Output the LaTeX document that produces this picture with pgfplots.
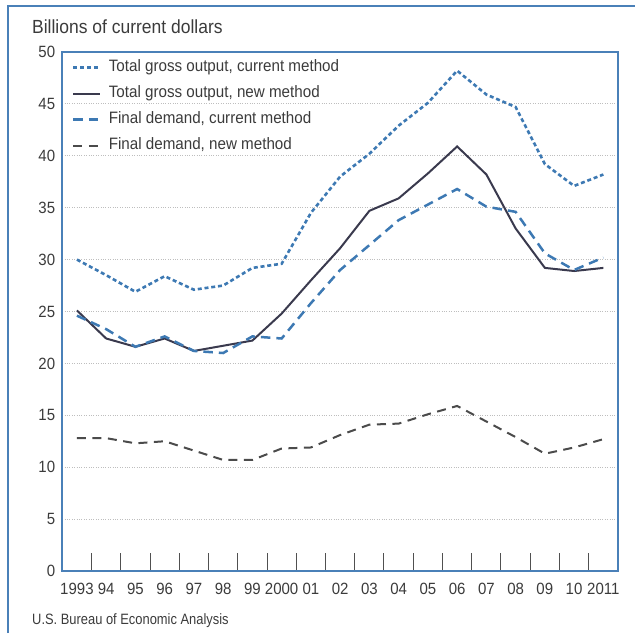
\documentclass[border=0pt]{standalone}
\usepackage{pgfplots}
\usepackage{pgfplotstable}
\usepackage{fontspec}
\pgfplotsset{compat=1.18}
\setmainfont[FakeStretch=0.92]{Liberation Sans}
\newfontfamily\srcfont[FakeStretch=0.86]{Liberation Sans}

\definecolor{framecol}{RGB}{74,128,184}
\definecolor{bluecol}{RGB}{61,121,179}
\definecolor{navycol}{RGB}{58,58,78}
\definecolor{darkdash}{RGB}{75,75,75}
\definecolor{gridcol}{RGB}{190,190,190}
\definecolor{textcol}{RGB}{59,59,59}
\definecolor{tickcol}{RGB}{80,80,80}

% billions of current dollars
\pgfplotstableread{
year  tgocur tgonew fdcur fdnew
1993  30.0   25.1   24.6  12.8
1994  28.5   22.4   23.3  12.8
1995  26.9   21.6   21.6  12.3
1996  28.4   22.4   22.6  12.5
1997  27.1   21.2   21.2  11.6
1998  27.5   21.7   21.0  10.7
1999  29.2   22.2   22.6  10.7
2000  29.6   24.8   22.4  11.8
2001  34.5   28.0   25.8  11.9
2002  38.0   31.1   29.0  13.1
2003  40.2   34.7   31.4  14.1
2004  42.9   35.9   33.8  14.2
2005  45.1   38.3   35.3  15.1
2006  48.2   40.9   36.8  15.9
2007  45.9   38.2   35.1  14.4
2008  44.7   33.0   34.6  12.9
2009  39.2   29.2   30.6  11.3
2010  37.1   28.9   29.0  11.9
2011  38.2   29.2   30.2  12.7
}\gdpdata

\newcommand\tickfont{\fontsize{16.3}{18}\selectfont}

\begin{document}
\begin{tikzpicture}
\begin{axis}[
    scale only axis,
    width=555.7pt, height=519pt,
    xmin=1992.5, xmax=2011.5,
    ymin=0, ymax=50,
    xtick={1993,...,2011},
    xticklabels={1993,94,95,96,97,98,99,2000,01,02,03,04,05,06,07,08,09,10,2011},
    minor xtick={1993.5,1994.5,...,2010.5},
    ytick={0,5,...,50},
    tick pos=left,
    tick align=inside,
    major tick length=0pt,
    minor tick length=18pt,
    every minor tick/.append style={draw=tickcol, line width=1pt},
    ymajorgrids,
    major grid style={draw=gridcol, dotted, line width=0.9pt},
    axis line style={draw=framecol, line width=1.6pt},
    /pgf/number format/assume math mode=true,
    ticklabel style={font=\tickfont, text=textcol, inner sep=0pt},
    yticklabel style={anchor=east, xshift=-7pt},
    xticklabel style={anchor=north, yshift=-12pt},
    legend image code/.code={\draw[#1] (0pt,0pt) -- (27pt,0pt);},
    legend style={at={(rel axis cs:0,1)}, anchor=north west,
        xshift=9.7pt, yshift=-7.7pt, draw=none, fill=none, inner sep=0pt,
        font=\fontsize{16.5}{18}\selectfont, text=textcol,
        row sep=10.5pt, column sep=7pt,
        nodes={inner sep=0pt, text height=12pt, text depth=3.5pt}},
    legend cell align=left,
]
\addplot[bluecol, line width=2.6pt, dash pattern=on 4pt off 2.8pt] table[x=year, y=tgocur] {\gdpdata};
\addplot[navycol, line width=2pt] table[x=year, y=tgonew] {\gdpdata};
\addplot[bluecol, line width=2.5pt, dash pattern=on 9.5pt off 6pt] table[x=year, y=fdcur] {\gdpdata};
\addplot[darkdash, line width=2pt, dash pattern=on 9pt off 6.5pt] table[x=year, y=fdnew] {\gdpdata};
\legend{{Total gross output, current method},
        {Total gross output, new method},
        {Final demand, current method},
        {Final demand, new method}}
\end{axis}
% outer frame and texts, in pt from the axis's lower left corner
\draw[framecol, line width=2pt] (-54.3pt,-62pt) -- (-54.3pt,565pt) -- (572.7pt,565pt);
\node[anchor=base west, inner sep=0pt, text=textcol, font=\fontsize{19}{21}\selectfont]
    at (-30.3pt,537pt) {Billions of current dollars};
\node[anchor=base west, inner sep=0pt, text=textcol, font=\srcfont\fontsize{15}{17}\selectfont]
    at (-30.3pt,-53pt) {U.S. Bureau of Economic Analysis};
\pgfresetboundingbox
\path (-62.3pt,-62pt) rectangle (572.7pt,571pt);
\end{tikzpicture}
\end{document}
